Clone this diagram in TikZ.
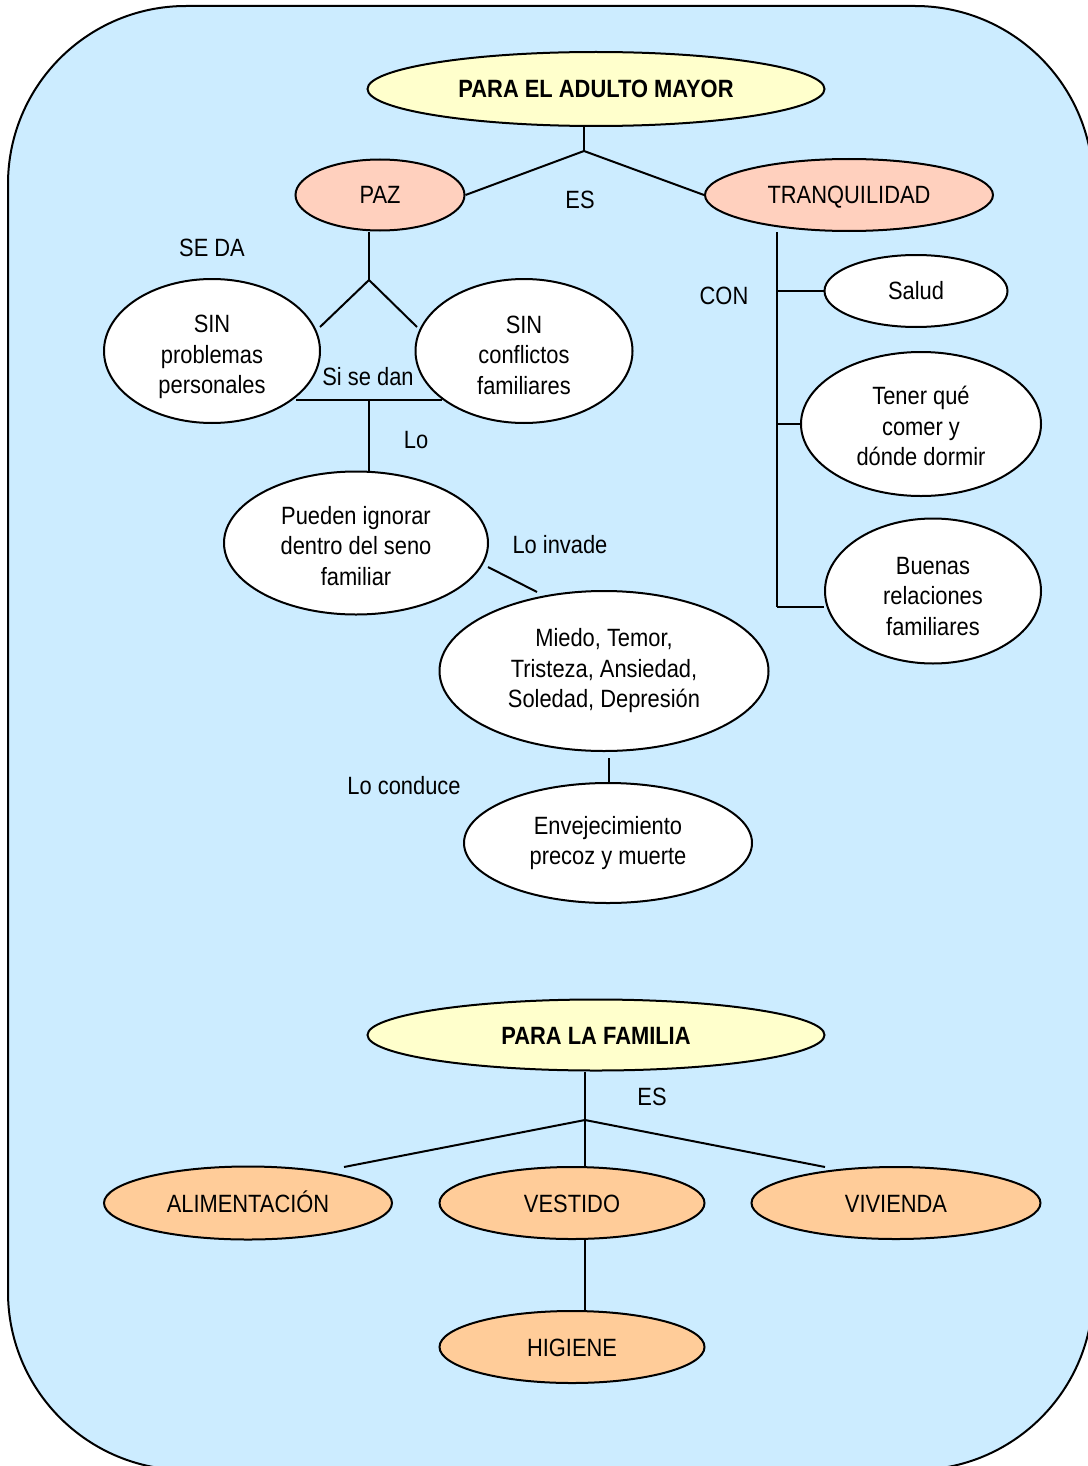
\documentclass[tikz,border=0pt]{standalone}
\usepackage{fontspec}
\setmainfont{Liberation Sans}[FakeStretch=0.875]
\usetikzlibrary{shapes.geometric}

\definecolor{panelblue}{HTML}{CCECFF}
\definecolor{titleyellow}{HTML}{FFFFCC}
\definecolor{peach}{HTML}{FFD0BE}
\definecolor{apricot}{HTML}{FFCC99}

\pgfdeclarelayer{panel}
\pgfdeclarelayer{links}
\pgfsetlayers{panel,links,main}

% strut that sets the height of a bubble's first line
\newcommand{\topline}[1]{\rule{0pt}{#1pt}}

\begin{document}
\begin{tikzpicture}[x=1pt,y=-1pt,
  every node/.style={font=\fontsize{25}{30.5}\selectfont},
  bubble/.style={ellipse, draw, line width=2pt, inner sep=0pt, align=center},
  plain/.style={bubble, fill=white},
  oneline/.style={text height=18pt, text depth=0pt},
  headline/.style={bubble, oneline, fill=titleyellow},
  value/.style={bubble, oneline, fill=peach},
  need/.style={bubble, oneline, fill=apricot},
  link/.style={line width=2pt},
  tag/.style={inner sep=0pt}]

\useasboundingbox (0,0) rectangle (1087,1466);

% rounded panel behind everything
\begin{pgfonlayer}{panel}
  \draw[line width=2pt, fill=panelblue, rounded corners=178pt] (8,6) rectangle (1093,1470);
\end{pgfonlayer}

% ---------- upper map ----------
\node[headline, minimum width=457pt, minimum height=74pt] (adulto) at (596,89) {\textbf{PARA EL ADULTO MAYOR}};
\node[value, minimum width=169pt, minimum height=71pt] (paz) at (380,195) {PAZ};
\node[value, minimum width=288pt, minimum height=72pt] (tranq) at (849,195) {TRANQUILIDAD};

\node[plain, minimum width=216pt, minimum height=144pt] (sinprob) at (212,351) {\topline{30}SIN\\problemas\\personales};
\node[plain, minimum width=217pt, minimum height=144pt] (sinconf) at (524,351) {\topline{26}SIN\\conflictos\\familiares};
\node[plain, minimum width=264pt, minimum height=143pt] (pueden) at (356,543) {\topline{24}Pueden ignorar\\dentro del seno\\familiar};
\node[plain, minimum width=329pt, minimum height=160pt] (miedo) at (604,671) {Miedo, Temor,\\Tristeza, Ansiedad,\\Soledad, Depresión};
\node[plain, minimum width=288pt, minimum height=120pt] (envej) at (608,843) {Envejecimiento\\precoz y muerte};

\node[plain, minimum width=183pt, minimum height=72pt] (salud) at (916,291) {Salud};
\node[plain, minimum width=240pt, minimum height=144pt] (tener) at (921,424) {\topline{23}Tener qué\\comer y\\dónde dormir};
\node[plain, minimum width=216pt, minimum height=145pt] (buenas) at (933,591) {\topline{28}Buenas\\relaciones\\familiares};

% link labels
\node[tag] (lbles) at (580,200) {ES};
\node[tag] (lblseda) at (212,248) {SE DA};
\node[tag] (lblsise) at (368,377) {Si se dan};
\node[tag] (lbllo) at (416,440) {Lo};
\node[tag] (lblinv) at (560,545) {Lo invade};
\node[tag] (lblcond) at (404,786) {Lo conduce};
\node[tag] (lblcon) at (724,296) {CON};

% junctions and free line ends
\coordinate (jtop) at (584,151);
\coordinate (jpaz) at (369,280);
\coordinate (fork l) at (320,327);
\coordinate (fork r) at (417,327);
\coordinate (bar l) at (296,400);
\coordinate (bar r) at (442,400);
\coordinate (jbar) at (369,400);
\coordinate (inv a) at (488,567);
\coordinate (inv b) at (537,592);
\coordinate (jcond) at (609,758);
\coordinate (trunk) at (777,607);

% ---------- lower map ----------
\node[headline, minimum width=457pt, minimum height=71pt] (familia) at (596,1035) {\textbf{PARA LA FAMILIA}};
\node[need, minimum width=288pt, minimum height=73pt] (alim) at (248,1203) {ALIMENTACIÓN};
\node[need, minimum width=265pt, minimum height=72pt] (vestido) at (572,1203) {VESTIDO};
\node[need, minimum width=289pt, minimum height=72pt] (vivienda) at (896,1203) {VIVIENDA};
\node[need, minimum width=265pt, minimum height=72pt] (higiene) at (572,1347) {HIGIENE};
\node[tag] (lbles2) at (652,1097) {ES};

\coordinate (jfam) at (585,1120);
\coordinate (end l) at (344,1167);
\coordinate (end r) at (825,1167);

% connectors, drawn beneath the bubbles
\begin{pgfonlayer}{links}
  \draw[link] (jtop |- adulto.south) -- (jtop);
  \draw[link] (jtop) -- (paz.east);
  \draw[link] (jtop) -- (tranq.west);

  \draw[link] (jpaz |- paz.south) -- (jpaz);
  \draw[link] (jpaz) -- (fork l);
  \draw[link] (jpaz) -- (fork r);
  \draw[link] (bar l) -- (bar r);
  \draw[link] (jbar) -- (jbar |- pueden.north);
  \draw[link] (inv a) -- (inv b);
  \draw[link] (jcond) -- (jcond |- envej.north);

  \draw[link] (trunk |- tranq.south) -- (trunk);
  \draw[link] (trunk |- salud.west) -- (salud.west);
  \draw[link] (trunk |- tener.west) -- (tener.west);
  \draw[link] (trunk) -- (trunk -| buenas.west);

  \draw[link] (jfam |- familia.south) -- (jfam |- vestido.north);
  \draw[link] (jfam) -- (end l);
  \draw[link] (jfam) -- (end r);
  \draw[link] (jfam |- vestido.south) -- (jfam |- higiene.north);
\end{pgfonlayer}

\end{tikzpicture}
\end{document}
